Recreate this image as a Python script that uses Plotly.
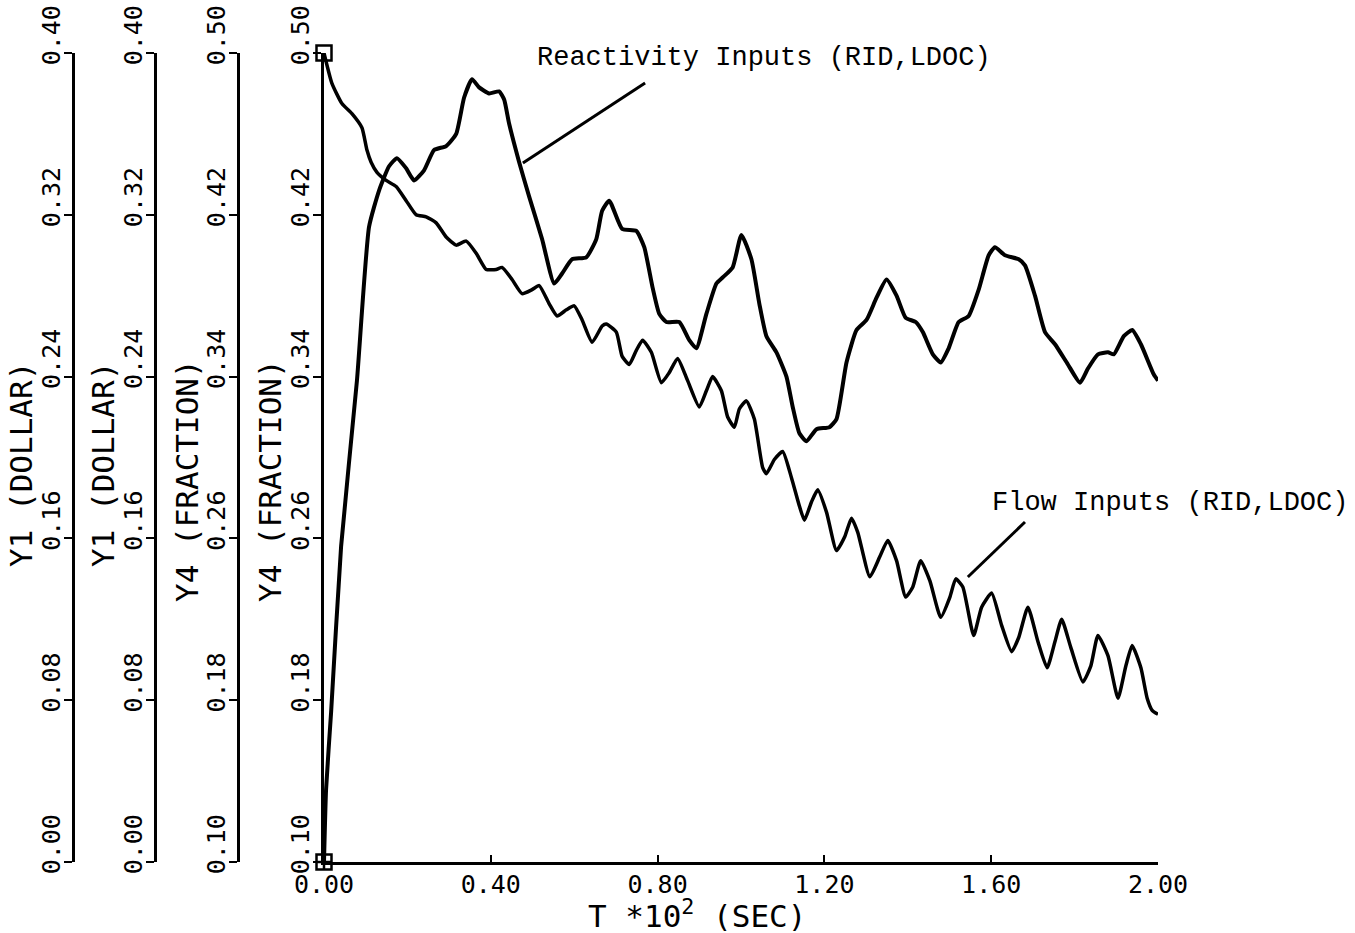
import plotly.graph_objects as go

# ---------------- data ----------------
T_REACT = [0.000, 0.005, 0.017, 0.041, 0.079, 0.108, 0.132, 0.156, 0.175, 0.197,
           0.216, 0.240, 0.264, 0.293, 0.317, 0.336, 0.355, 0.372, 0.396, 0.420,
           0.432, 0.444, 0.468, 0.492, 0.523, 0.552, 0.571, 0.595, 0.629, 0.653,
           0.667, 0.684, 0.715, 0.749, 0.768, 0.788, 0.804, 0.821, 0.852, 0.876,
           0.893, 0.917, 0.941, 0.956, 0.980, 1.001, 1.025, 1.044, 1.061, 1.085,
           1.109, 1.124, 1.140, 1.157, 1.181, 1.212, 1.229, 1.253, 1.277, 1.301,
           1.325, 1.349, 1.373, 1.395, 1.419, 1.436, 1.460, 1.479, 1.498, 1.522,
           1.546, 1.570, 1.594, 1.609, 1.633, 1.666, 1.681, 1.705, 1.729, 1.753,
           1.784, 1.813, 1.832, 1.856, 1.880, 1.894, 1.918, 1.938, 1.959, 1.990,
           2.000]
Y_REACT = [0.100, 0.136, 0.174, 0.256, 0.338, 0.414, 0.432, 0.444, 0.448, 0.443,
           0.437, 0.442, 0.452, 0.454, 0.460, 0.478, 0.487, 0.483, 0.480, 0.481,
           0.477, 0.465, 0.446, 0.429, 0.408, 0.386, 0.391, 0.398, 0.399, 0.408,
           0.422, 0.427, 0.413, 0.412, 0.404, 0.384, 0.371, 0.367, 0.367, 0.358,
           0.354, 0.371, 0.386, 0.389, 0.394, 0.410, 0.398, 0.376, 0.360, 0.352,
           0.340, 0.325, 0.312, 0.308, 0.314, 0.315, 0.319, 0.347, 0.363, 0.368,
           0.379, 0.388, 0.380, 0.369, 0.367, 0.362, 0.351, 0.347, 0.354, 0.367,
           0.370, 0.383, 0.400, 0.404, 0.400, 0.398, 0.395, 0.380, 0.362, 0.356,
           0.346, 0.337, 0.344, 0.351, 0.352, 0.351, 0.360, 0.363, 0.356, 0.341,
           0.338]

T_FLOW = [0.000, 0.019, 0.043, 0.067, 0.091, 0.103, 0.113, 0.127, 0.149, 0.173,
          0.197, 0.221, 0.245, 0.269, 0.293, 0.317, 0.341, 0.365, 0.389, 0.413,
          0.427, 0.451, 0.475, 0.499, 0.516, 0.540, 0.559, 0.581, 0.600, 0.619,
          0.643, 0.667, 0.677, 0.701, 0.715, 0.732, 0.749, 0.764, 0.785, 0.809,
          0.828, 0.848, 0.872, 0.900, 0.917, 0.932, 0.953, 0.968, 0.984, 0.996,
          1.013, 1.032, 1.052, 1.061, 1.080, 1.100, 1.121, 1.140, 1.152, 1.169,
          1.184, 1.205, 1.229, 1.249, 1.265, 1.280, 1.309, 1.333, 1.352, 1.373,
          1.395, 1.412, 1.431, 1.453, 1.479, 1.501, 1.515, 1.532, 1.558, 1.577,
          1.601, 1.625, 1.649, 1.666, 1.688, 1.712, 1.734, 1.753, 1.769, 1.791,
          1.820, 1.839, 1.856, 1.880, 1.904, 1.923, 1.938, 1.959, 1.974, 1.986,
          2.000]
Y_FLOW = [0.500, 0.485, 0.475, 0.470, 0.463, 0.452, 0.446, 0.441, 0.437, 0.434,
          0.427, 0.420, 0.419, 0.416, 0.409, 0.405, 0.407, 0.401, 0.393, 0.393,
          0.394, 0.388, 0.381, 0.383, 0.385, 0.376, 0.370, 0.373, 0.375, 0.368,
          0.357, 0.365, 0.366, 0.362, 0.350, 0.346, 0.353, 0.358, 0.352, 0.337,
          0.342, 0.349, 0.338, 0.325, 0.333, 0.340, 0.333, 0.320, 0.315, 0.324,
          0.328, 0.319, 0.295, 0.292, 0.299, 0.303, 0.290, 0.276, 0.269, 0.278,
          0.284, 0.273, 0.254, 0.261, 0.270, 0.263, 0.241, 0.251, 0.259, 0.249,
          0.231, 0.236, 0.249, 0.239, 0.221, 0.231, 0.240, 0.236, 0.212, 0.226,
          0.233, 0.217, 0.204, 0.211, 0.226, 0.209, 0.196, 0.209, 0.220, 0.206,
          0.189, 0.197, 0.212, 0.202, 0.181, 0.197, 0.207, 0.196, 0.181, 0.175,
          0.173]

X_TICKS = [0.0, 0.4, 0.8, 1.2, 1.6, 2.0]
X_TICK_LABELS = ["0.00", "0.40", "0.80", "1.20", "1.60", "2.00"]
Y1_TICKS = [0.00, 0.08, 0.16, 0.24, 0.32, 0.40]
Y4_TICKS = [0.10, 0.18, 0.26, 0.34, 0.42, 0.50]

Y1_TITLE = "Y1 (DOLLAR)"
Y4_TITLE = "Y4 (FRACTION)"
X_TITLE = "T *10<sup>2</sup> (SEC)"
LABEL_REACT = "Reactivity Inputs (RID,LDOC)"
LABEL_FLOW = "Flow Inputs (RID,LDOC)"

# leader lines (data coordinates on the main axes)
LEADER_REACT = [(0.477, 0.4456), (0.770, 0.4852)]
LEADER_FLOW = [(1.544, 0.2409), (1.681, 0.2681)]

# ---------------- figure ----------------
W, H = 1355, 933
TICK_FONT = dict(family="DejaVu Sans Mono", size=25, color="black")
TITLE_FONT = dict(family="DejaVu Sans Mono", size=31, color="black")
XTITLE_FONT = dict(family="DejaVu Sans Mono", size=31, color="black")
NOTE_FONT = dict(family="Liberation Mono, Courier New, monospace", size=27, color="black")

x_dom = [324 / W, 1158 / W]
y_dom = [1 - 862 / H, 1 - 53 / H]

fig = go.Figure()

fig.add_trace(go.Scatter(x=T_REACT, y=Y_REACT, mode="lines",
                         line=dict(color="black", width=4, shape="spline", smoothing=0.5),
                         showlegend=False, name="Reactivity Inputs"))
fig.add_trace(go.Scatter(x=T_FLOW, y=Y_FLOW, mode="lines",
                         line=dict(color="black", width=3.5, shape="spline", smoothing=0.5),
                         showlegend=False, name="Flow Inputs"))
# plotter start symbols
fig.add_trace(go.Scatter(x=[T_FLOW[0]], y=[Y_FLOW[0]], mode="markers", cliponaxis=False,
                         marker=dict(symbol="square-open", size=15, color="black",
                                     line=dict(width=2.5, color="black")),
                         showlegend=False))
fig.add_trace(go.Scatter(x=[T_REACT[0]], y=[Y_REACT[0]], mode="markers", cliponaxis=False,
                         marker=dict(symbol="square-cross-open", size=15, color="black",
                                     line=dict(width=2.5, color="black")),
                         showlegend=False))
# empty traces so every extra axis is drawn
for ya in ["y2", "y3", "y4"]:
    fig.add_trace(go.Scatter(x=[None], y=[None], yaxis=ya, showlegend=False,
                             hoverinfo="skip"))


def yaxis_cfg(ticks, **kw):
    d = dict(
        range=[ticks[0], ticks[-1]],
        tickvals=ticks,
        ticktext=[f"{v:.2f}" for v in ticks],
        tickangle=-90,
        ticks="outside", ticklen=8, tickwidth=2, tickcolor="black",
        ticklabelshift=-14,
        ticklabelstandoff=-6,
        tickfont=TICK_FONT,
        showline=True, linecolor="black", linewidth=2.5,
        showgrid=False, zeroline=False,
        domain=y_dom,
        automargin=False,
        fixedrange=True,
    )
    d.update(kw)
    return d


# axis positions (paper fraction) of the four stacked y axes
POS_AX2 = 238 / W
POS_AX3 = 155 / W
POS_AX4 = 73 / W

fig.update_layout(
    width=W, height=H,
    margin=dict(l=0, r=0, t=0, b=0, pad=0, autoexpand=False),
    paper_bgcolor="white", plot_bgcolor="white",
    xaxis=dict(
        domain=x_dom, range=[0, 2.0],
        tickvals=X_TICKS, ticktext=X_TICK_LABELS,
        ticks="inside", ticklen=7, tickwidth=2, tickcolor="black",
        ticklabelstandoff=-2,
        tickfont=TICK_FONT,
        showline=True, linecolor="black", linewidth=2.5,
        showgrid=False, zeroline=False, anchor="y",
        automargin=False,
    ),
    yaxis=yaxis_cfg(Y4_TICKS, anchor="x"),
    yaxis2=yaxis_cfg(Y4_TICKS, anchor="free", overlaying="y", position=POS_AX2),
    yaxis3=yaxis_cfg(Y1_TICKS, anchor="free", overlaying="y", position=POS_AX3),
    yaxis4=yaxis_cfg(Y1_TICKS, anchor="free", overlaying="y", position=POS_AX4),
)

# axis titles (rotated, placed left of each axis' tick labels)
for xc, yc, txt in [(21, 465, Y1_TITLE), (103, 465, Y1_TITLE),
                    (187, 481, Y4_TITLE), (270, 481, Y4_TITLE)]:
    fig.add_annotation(text=txt, xref="paper", yref="paper", x=xc / W, y=1 - yc / H,
                       xanchor="center", yanchor="middle", textangle=-90,
                       showarrow=False, font=TITLE_FONT)

# leader lines
for (x0, y0), (x1, y1) in [LEADER_REACT, LEADER_FLOW]:
    fig.add_shape(type="line", xref="x", yref="y", x0=x0, y0=y0, x1=x1, y1=y1,
                  line=dict(color="black", width=3))

fig.add_annotation(text=LABEL_REACT, xref="paper", yref="paper",
                   x=535 / W, y=1 - 58 / H, xanchor="left", yanchor="middle",
                   showarrow=False, font=NOTE_FONT)
fig.add_annotation(text=LABEL_FLOW, xref="paper", yref="paper",
                   x=990 / W, y=1 - 503 / H, xanchor="left", yanchor="middle",
                   showarrow=False, font=NOTE_FONT)
fig.add_annotation(text=X_TITLE, xref="paper", yref="paper",
                   x=697 / W, y=0, xanchor="center", yanchor="bottom", yshift=-3,
                   showarrow=False, font=XTITLE_FONT)

fig.write_html("out.html")
